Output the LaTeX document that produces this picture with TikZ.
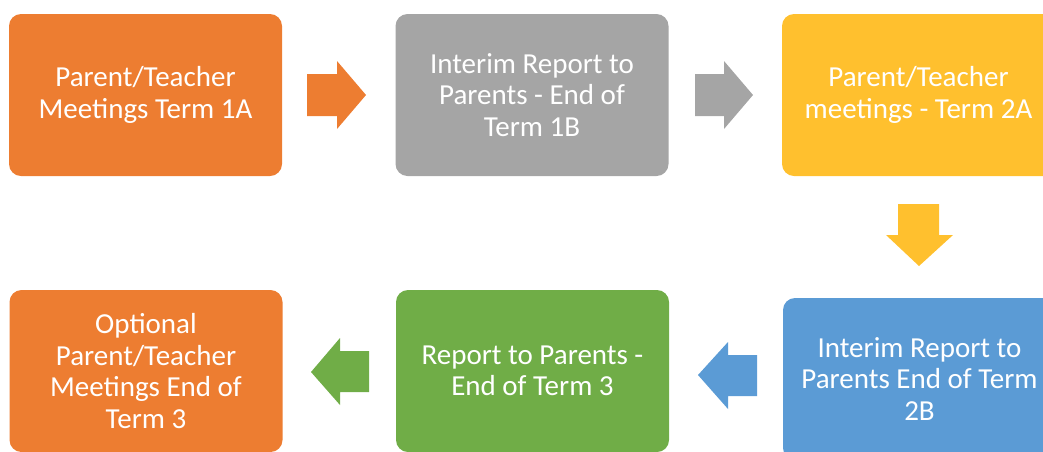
\documentclass[tikz,border=0pt]{standalone}
\usepackage{fontspec}
\setmainfont{Carlito}
\definecolor{cOrange}{HTML}{ED7D31}
\definecolor{cGray}{HTML}{A5A5A5}
\definecolor{cYellow}{HTML}{FFC02E}
\definecolor{cBlue}{HTML}{5B9BD5}
\definecolor{cGreen}{HTML}{70AD47}
\begin{document}
\begin{tikzpicture}[x=1pt,y=-1pt,
  boxstyle/.style={rounded corners=12pt, minimum width=273pt, minimum height=162pt,
    inner sep=0pt, text=white, align=center,
    font=\fontsize{29}{31.5}\selectfont},
  blockarrow/.style={draw=none}]
\useasboundingbox (0,0) rectangle (1043,451);
\clip (0,0) rectangle (1043,451);
\node[boxstyle, fill=cOrange] (b1) at (145.5,95) {Parent/Teacher\\Meetings Term 1A};
\node[boxstyle, fill=cGray] (b2) at (532,95) {Interim Report to\\Parents - End of\\Term 1B};
\node[boxstyle, fill=cYellow] (b3) at (918.5,95) {Parent/Teacher\\meetings - Term 2A};
\node[boxstyle, fill=cBlue] (b6) at (919.5,379) {Interim Report to\\Parents End of Term\\2B};
\node[boxstyle, fill=cGreen] (b5) at (532.5,371) {Report to Parents -\\End of Term 3};
\node[boxstyle, fill=cOrange] (b4) at (146,371) {Optional\\Parent/Teacher\\Meetings End of\\Term 3};
% block arrows
\fill[cOrange] (307,74) -- (337,74) -- (337,61) -- (366,95) -- (337,129) -- (337,116) -- (307,116) -- cycle;
\fill[cGray] (695,74) -- (724,74) -- (724,61) -- (753,95) -- (724,129) -- (724,116) -- (695,116) -- cycle;
\fill[cYellow] (898,204) -- (939,204) -- (939,235) -- (953,235) -- (919,266) -- (886,235) -- (898,235) -- cycle;
\fill[cBlue] (757,355) -- (728,355) -- (728,342) -- (698,375) -- (728,409) -- (728,396) -- (757,396) -- cycle;
\fill[cGreen] (369,351) -- (340,351) -- (340,338) -- (311,372) -- (340,405) -- (340,392) -- (369,392) -- cycle;
\end{tikzpicture}
\end{document}
